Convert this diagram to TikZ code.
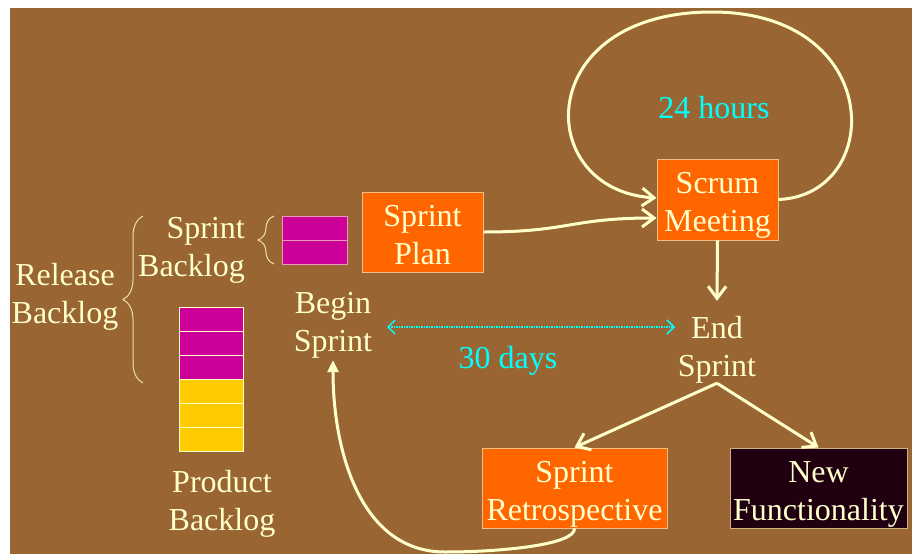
\documentclass[tikz,border=0pt]{standalone}
\usepackage{fontspec}
\setmainfont{Liberation Serif}
\usetikzlibrary{arrows.meta, decorations.pathreplacing, positioning}
\definecolor{bgbrown}{HTML}{996633}
\definecolor{cream}{HTML}{FFFFCC}
\definecolor{boxorange}{HTML}{FF6600}
\definecolor{boxedge}{HTML}{F0C080}
\definecolor{pbmagenta}{HTML}{CC0099}
\definecolor{pbyellow}{HTML}{FFCC00}
\definecolor{darkbox}{HTML}{200010}
\definecolor{timecyan}{HTML}{00FFFF}

\begin{document}
\begin{tikzpicture}[x=1pt, y=-1pt,
    note/.style={text=timecyan, font=\fontsize{32}{38}\selectfont, inner sep=2pt},
    lbl/.style={text=cream, align=center, font=\fontsize{32}{38}\selectfont, inner sep=2pt, text height=64pt, text depth=0pt},
    box/.style={lbl, rectangle, fill=boxorange, draw=boxedge, line width=1pt, minimum width=121pt, minimum height=80pt, inner sep=0pt},
    cell/.style={rectangle, draw=cream, line width=1pt, minimum width=64pt, minimum height=24pt, inner sep=0pt},
    flow/.style={-{Straight Barb[length=12pt,width=18pt]}, line width=3pt, draw=cream},
    span/.style={{Straight Barb[length=7pt,width=14pt]}-{Straight Barb[length=7pt,width=14pt]}, line width=1.5pt, draw=timecyan, densely dotted},
    curly/.style={decorate, decoration={brace, amplitude=#1}, draw=cream!80!bgbrown, line width=1pt},
    ]
    % Background
    \fill[white] (0,0) rectangle (912,554);
    \fill[bgbrown] (10,8) rectangle (912,554);
    \useasboundingbox (0,0) rectangle (912,554);

    % Backlogs
    \node[lbl] (release) at (65,291) {Release\\Backlog};
    \node[lbl, align=right, anchor=east] (sprintlog) at (247,244) {Sprint\\Backlog};
    \node[lbl] (product) at (222,498) {Product\\Backlog};
    \node[cell, fill=pbmagenta, draw=cream!60!pbmagenta, minimum width=65pt] (sb0) at (314.5,228) {};
    \node[cell, fill=pbmagenta, draw=cream!60!pbmagenta, minimum width=65pt] (sb1) at (314.5,252) {};
    \foreach \i/\c in {0/pbmagenta,1/pbmagenta,2/pbmagenta,3/pbyellow,4/pbyellow,5/pbyellow}
        \node[cell, fill=\c] (pb\i) at (211,{319+24*\i}) {};
    \draw[curly=20pt] (143,383) -- (143,216);
    \draw[curly=16pt] (274,264) -- (274,216);

    % Sprint
    \node[box] (plan) at (422.5,232) {Sprint\\Plan};
    \node[box, minimum height=81pt] (scrum) at (717.5,199.5) {Scrum\\Meeting};
    \node[box, minimum width=185pt] (retro) at (574.5,488) {Sprint\\Retrospective};
    \node[box, fill=darkbox, draw=cream!50!bgbrown, minimum width=177pt] (newf) at (818.5,488) {New\\Functionality};
    \node[lbl] (begin) at (333,319) {Begin\\Sprint};
    \node[lbl] (endsprint) at (717,344) {End\\Sprint};
    \node[note] (hours) at (714,108) {24 hours};
    \node[note] (days) at (508,361) {30 days};
    \coordinate (s1) at (387,327);
    \coordinate (s2) at (675,327);

    % Edges
    \draw[flow] (plan.east) .. controls (570,232) and (570,218) .. ([yshift=-18.5pt]scrum.west);
    \draw[flow] (scrum.east) .. controls (885,195) and (885,12) .. (712,12) .. controls (532,12) and (532,190) .. ([yshift=1.5pt]scrum.west);
    \draw[flow] (scrum.south) -- ([yshift=9pt]endsprint.north);
    \draw[flow] ([yshift=-5pt]endsprint.south) -- (retro.north);
    \draw[flow] ([yshift=-5pt]endsprint.south) -- (newf.north);
    \draw[flow, -{Triangle[length=12pt,width=11pt]}] (retro.south) .. controls (575,545) and (500,552) .. (445,552) .. controls (360,552) and (333,450) .. ([yshift=-7pt]begin.south);
    \draw[span] (s1) -- (s2);
\end{tikzpicture}
\end{document}
